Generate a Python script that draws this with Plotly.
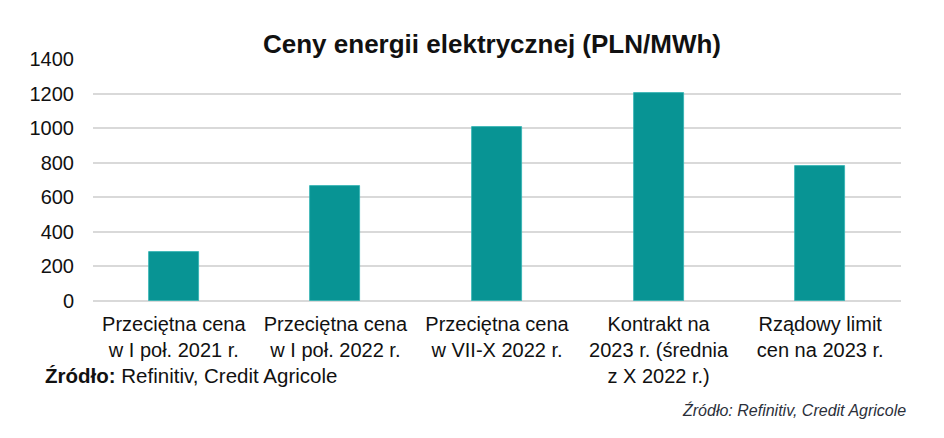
import plotly.graph_objects as go

categories = [
    "Przeciętna cena<br>w I poł. 2021 r.",
    "Przeciętna cena<br>w I poł. 2022 r.",
    "Przeciętna cena<br>w VII-X 2022 r.",
    "Kontrakt na<br>2023 r. (średnia<br>z X 2022 r.)",
    "Rządowy limit<br>cen na 2023 r.",
]
values = [282, 665, 1007, 1205, 782]
y_ticks = [0, 200, 400, 600, 800, 1000, 1200, 1400]

title_text = "Ceny energii elektrycznej (PLN/MWh)"
source_left = "<b>Źródło:</b> Refinitiv, Credit Agricole"
source_right = "<i>Źródło: Refinitiv, Credit Agricole</i>"

FONT = "Liberation Sans, Arial, sans-serif"

fig = go.Figure()
fig.add_trace(go.Bar(
    x=list(range(len(categories))),
    y=values,
    width=0.31,
    marker=dict(color="#089494", line=dict(color="#2fb3b3", width=0.8)),
))

fig.update_layout(
    width=944, height=438,
    margin=dict(l=93, r=43, t=59, b=137),
    paper_bgcolor="white", plot_bgcolor="white",
    showlegend=False,
    font=dict(family=FONT, color="#111111"),
    bargap=0,
)
fig.update_xaxes(
    tickmode="array",
    tickvals=list(range(len(categories))),
    ticktext=categories,
    range=[-0.5, 4.5],
    tickfont=dict(size=20, color="#111111"),
    showgrid=False, zeroline=False, showline=False, ticks="",
    tickangle=0,
    ticklabelstandoff=9,
)
fig.update_yaxes(
    range=[0, 1400],
    tickvals=y_ticks,
    tickfont=dict(size=20, color="#111111"),
    showgrid=True, gridcolor="#d9d9d9", gridwidth=1.5,
    zeroline=True, zerolinecolor="#d9d9d9", zerolinewidth=1.5,
    showline=False, ticks="",
    ticklabelstandoff=18,
)

fig.add_annotation(
    text="<b>" + title_text + "</b>",
    xref="paper", yref="paper", x=(492 - 93) / 808, y=1 + (59 - 44) / 242,
    xanchor="center", yanchor="middle", showarrow=False,
    font=dict(size=26, family=FONT, color="#111111"),
)
fig.add_annotation(
    text=source_left,
    xref="paper", yref="paper", x=(43 - 93) / 808, y=-(375 - 301) / 242,
    xanchor="left", yanchor="middle", showarrow=False,
    font=dict(size=20.5, family=FONT, color="#111111"),
)
fig.add_annotation(
    text=source_right,
    xref="paper", yref="paper", x=(908 - 93) / 808, y=-(410 - 301) / 242,
    xanchor="right", yanchor="middle", showarrow=False,
    font=dict(size=16, family=FONT, color="#2b2f3a"),
)

fig.write_html("out.html")
